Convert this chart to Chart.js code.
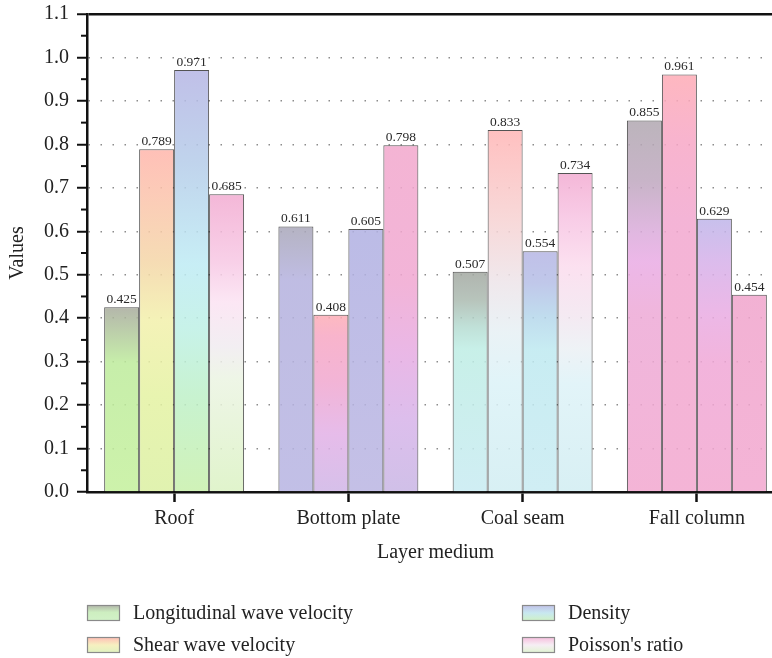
<!DOCTYPE html>
<html>
<head>
<meta charset="utf-8">
<script src="https://cdn.jsdelivr.net/npm/chart.js@4.4.1/dist/chart.umd.min.js"></script>
<style>
    html, body { margin: 0; padding: 0; background: #fff; overflow: hidden; }
    #wrap { width: 772px; height: 658px; overflow: hidden; }
</style>
</head>
<body>
<div id="wrap"><canvas id="myChart" width="785" height="658"></canvas></div>
<script>
// data
var categories = ['Roof', 'Bottom plate', 'Coal seam', 'Fall column'];
var seriesNames = ['Longitudinal wave velocity', 'Shear wave velocity', 'Density', "Poisson's ratio"];
var longitudinal = [0.425, 0.611, 0.507, 0.855];
var shear = [0.789, 0.408, 0.833, 0.961];
var density = [0.971, 0.605, 0.554, 0.629];
var poisson = [0.685, 0.798, 0.734, 0.454];
var yTickValues = [0, 0.1, 0.2, 0.3, 0.4, 0.5, 0.6, 0.7, 0.8, 0.9, 1.0, 1.1];

var FONT = '"Liberation Serif", "Times New Roman", serif';
var TEXT = '#222';
var BAR_ALPHA = 0.85;

// gradient stops per bar, top of bar (0) to baseline (1), as seen on white
var barFills = [
    [ // longitudinal
        [[0, '#b4b7ab'], [0.3, '#c7eeaa'], [1, '#cdf2ab']],
        [[0, '#b5b3c3'], [0.2, '#bfbde3'], [1, '#c2bfe6']],
        [[0, '#b0b4ae'], [0.13, '#b8c4bc'], [0.25, '#c0e0d8'], [0.35, '#c8f0e8'], [1, '#d0eef4']],
        [[0, '#bcb4bc'], [0.16, '#c8b4c8'], [0.3, '#e0b8e0'], [0.38, '#ecb8e8'], [0.52, '#f0b6dc'], [1, '#f4b4d6']]
    ],
    [ // shear
        [[0, '#ffc0b8'], [0.14, '#fcccb8'], [0.33, '#f6dcb4'], [0.5, '#f4f2b8'], [0.72, '#e8f4b0'], [1, '#e0f2b0']],
        [[0, '#fdb9c0'], [0.12, '#f8b4cc'], [0.38, '#f2b4d6'], [0.67, '#e6bcea'], [1, '#d6c0ea']],
        [[0, '#ffc0c0'], [0.24, '#f8d8d8'], [0.42, '#f0e8ec'], [0.56, '#eaf2f6'], [0.7, '#e0f4f8'], [1, '#d8f0f4']],
        [[0, '#feb8c0'], [0.15, '#f8b4ce'], [0.35, '#f4b4d6'], [1, '#f4b4d6']]
    ],
    [ // density
        [[0, '#c0c0e8'], [0.22, '#c0d4ec'], [0.46, '#c8eef6'], [0.62, '#c8f2e8'], [0.77, '#c8f2d0'], [1, '#d0f2b8']],
        [[0, '#bcbce6'], [1, '#c4c0e6']],
        [[0, '#c0c0e8'], [0.13, '#c0c8ea'], [0.27, '#c0dcee'], [0.41, '#c8ecf2'], [1, '#d0eef4']],
        [[0, '#c8c0ec'], [0.16, '#dcbcec'], [0.35, '#ecb8e6'], [0.53, '#f2b4dc'], [1, '#f4b4d6']]
    ],
    [ // poisson
        [[0, '#f4b8d8'], [0.23, '#f8d0e8'], [0.36, '#fce6f4'], [0.51, '#f2eef2'], [0.62, '#eef6e6'], [1, '#e0f4cc']],
        [[0, '#f4b4d4'], [0.4, '#f2b4d8'], [0.6, '#eab8e6'], [0.8, '#dcbeec'], [1, '#d0c0e8']],
        [[0, '#f4b8d8'], [0.14, '#f8cce6'], [0.29, '#fce0f0'], [0.45, '#f4eaf2'], [0.55, '#eef2f6'], [0.66, '#e2f4f8'], [1, '#d8f0f4']],
        [[0, '#f2b2d4'], [1, '#f4b4d6']]
    ]
];

var legendFills = [
    [[0, '#b0b4a8'], [0.45, '#cdeec0'], [1, '#d2f2c8']],
    [[0, '#ffbcb4'], [0.5, '#f6f0c0'], [1, '#e0f2c0']],
    [[0, '#c0c0e8'], [0.5, '#c8e8f0'], [1, '#d0f2c4']],
    [[0, '#f6bcdc'], [0.5, '#f6eef4'], [1, '#e0f4d0']]
];

// colour as seen on white -> rgba that gives it with BAR_ALPHA
function seenToRgba(hex, a) {
    var n = parseInt(hex.slice(1), 16);
    var rgb = [(n >> 16) & 255, (n >> 8) & 255, n & 255].map(function (c) {
        return Math.max(0, Math.min(255, Math.round((c - 255 * (1 - a)) / a)));
    });
    return 'rgba(' + rgb.join(',') + ',' + a + ')';
}

function barGradient(c) {
    var chart = c.chart;
    if (!chart.chartArea || c.type !== 'data' || !chart.scales.y) return 'rgba(200,200,220,0.85)';
    var yScale = chart.scales.y;
    var top = yScale.getPixelForValue(c.raw);
    var bottom = yScale.getPixelForValue(0);
    var g = chart.ctx.createLinearGradient(0, top, 0, bottom);
    barFills[c.datasetIndex][c.dataIndex].forEach(function (s) {
        g.addColorStop(s[0], seenToRgba(s[1], BAR_ALPHA));
    });
    return g;
}

var valueLabels = {
    id: 'valueLabels',
    afterDatasetsDraw: function (chart) {
        var ctx = chart.ctx;
        ctx.save();
        ctx.font = '13.5px ' + FONT;
        ctx.fillStyle = '#2a2a2a';
        ctx.textAlign = 'center';
        ctx.textBaseline = 'alphabetic';
        chart.data.datasets.forEach(function (ds, i) {
            chart.getDatasetMeta(i).data.forEach(function (bar, j) {
                ctx.fillText(ds.data[j].toFixed(3), bar.x, bar.y - 4);
            });
        });
        ctx.restore();
    }
};

var axisExtras = {
    id: 'axisExtras',
    afterDraw: function (chart) {
        var ctx = chart.ctx;
        var y = chart.scales.y;
        var left = chart.chartArea.left;
        ctx.save();
        ctx.strokeStyle = '#111';
        ctx.lineWidth = 2;
        // minor ticks halfway between labelled ones
        for (var i = 0; i < y.ticks.length - 1; i++) {
            var py = (y.getPixelForValue(y.ticks[i].value) + y.getPixelForValue(y.ticks[i + 1].value)) / 2;
            ctx.beginPath();
            ctx.moveTo(left - 6, py);
            ctx.lineTo(left, py);
            ctx.stroke();
        }
        ctx.restore();
    }
};

var gradientLegend = {
    id: 'gradientLegend',
    afterDraw: function (chart) {
        var ctx = chart.ctx;
        var cols = [87, 522];
        var rows = [613, 645];
        ctx.save();
        ctx.font = '20px ' + FONT;
        ctx.textBaseline = 'middle';
        ctx.textAlign = 'left';
        chart.data.datasets.forEach(function (ds, i) {
            var x = cols[Math.floor(i / 2)];
            var yc = rows[i % 2];
            var g = ctx.createLinearGradient(0, yc - 8, 0, yc + 8);
            legendFills[i].forEach(function (s) { g.addColorStop(s[0], s[1]); });
            ctx.fillStyle = g;
            ctx.fillRect(x, yc - 8, 33, 16);
            ctx.strokeStyle = '#8a8a8a';
            ctx.lineWidth = 1.2;
            ctx.strokeRect(x + 0.5, yc - 7.5, 32, 15);
            ctx.fillStyle = TEXT;
            ctx.fillText(ds.label, x + 46, yc + 1);
        });
        ctx.restore();
    }
};

var seriesValues = [longitudinal, shear, density, poisson];

var ctx = document.getElementById('myChart').getContext('2d');
var myChart = new Chart(ctx, {
    type: 'bar',
    data: {
        labels: categories,
        datasets: seriesNames.map(function (name, i) {
            return {
                label: name,
                data: seriesValues[i],
                backgroundColor: barGradient,
                borderColor: 'rgba(25,25,25,0.75)',
                borderWidth: 1,
                barPercentage: 1,
                categoryPercentage: 0.803
            };
        })
    },
    plugins: [valueLabels, axisExtras, gradientLegend],
    options: {
        responsive: false,
        animation: false,
        devicePixelRatio: 1,
        layout: { padding: { top: 14, right: 1, bottom: 91, left: 0 } },
        plugins: {
            legend: { display: false },
            tooltip: { enabled: false }
        },
        scales: {
            x: {
                afterFit: function (scale) {
                    scale.height = 75;
                    scale.paddingLeft = 0;
                    scale.paddingRight = 0;
                },
                grid: {
                    offset: false,
                    drawOnChartArea: false,
                    drawTicks: true,
                    tickLength: 10,
                    tickColor: '#111',
                    tickWidth: 2.5
                },
                border: { color: '#111', width: 2.5 },
                ticks: {
                    padding: 5,
                    color: TEXT,
                    font: { family: FONT, size: 20 }
                },
                title: {
                    display: true,
                    text: 'Layer medium',
                    color: TEXT,
                    font: { family: FONT, size: 20 },
                    padding: { top: 0, bottom: 2 }
                }
            },
            y: {
                min: 0,
                max: 1.1,
                afterFit: function (scale) {
                    scale.width = 87;
                    scale.paddingTop = 0;
                    scale.paddingBottom = 0;
                },
                afterBuildTicks: function (scale) {
                    scale.ticks = yTickValues.map(function (v) { return { value: v }; });
                },
                grid: {
                    color: function (c) {
                        if (c.tick && c.tick.value === 0) return 'rgba(0,0,0,0)';
                        if (c.tick && c.tick.value > 1.05) return '#111';
                        return '#8c8c8c';
                    },
                    lineWidth: function (c) { return c.tick && c.tick.value > 1.05 ? 2.5 : 1.5; },
                    tickLength: 10,
                    tickColor: '#111',
                    tickWidth: 2,
                    tickBorderDash: []
                },
                border: {
                    color: '#111',
                    width: 2.5,
                    dash: function (c) { return c.tick && c.tick.value > 1.05 ? [] : [1.5, 10.5]; }
                },
                ticks: {
                    padding: 8,
                    color: TEXT,
                    font: { family: FONT, size: 20 },
                    callback: function (v) { return Number(v).toFixed(1); }
                },
                title: {
                    display: true,
                    text: 'Values',
                    color: TEXT,
                    font: { family: FONT, size: 20 },
                    padding: { top: 6, bottom: 0 }
                }
            }
        }
    }
});
</script>
</body>
</html>
